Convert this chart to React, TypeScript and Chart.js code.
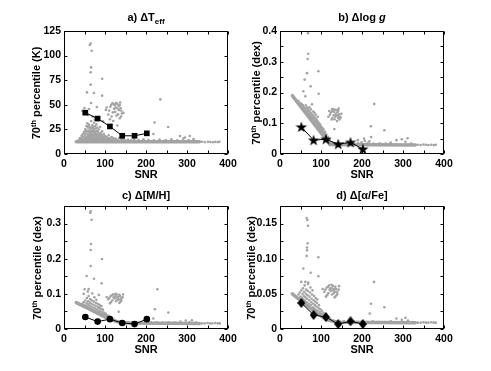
import React, { useEffect, useRef } from "react";
import { Chart, registerables } from "chart.js";
Chart.register(...registerables);

// ---------- data ----------
const SNR_BINS = [52, 82, 112, 142, 172, 202];

const TEFF_P70 = [42, 36, 28, 18.5, 18.5, 21];
const TEFF_ERR = [1.8, 1.4, 1.3, 1.1, 1.1, 1.3];
const LOGG_P70 = [0.088, 0.045, 0.048, 0.032, 0.038, 0.016];
const LOGG_ERR = [0.005, 0.004, 0.004, 0.003, 0.003, 0.004];
const MH_P70 = [0.034, 0.021, 0.028, 0.017, 0.014, 0.028];
const MH_ERR = [0.003, 0.002, 0.003, 0.002, 0.002, 0.003];
const AFE_P70 = [0.037, 0.02, 0.017, 0.007, 0.011, 0.007];
const AFE_ERR = [0.004, 0.003, 0.003, 0.002, 0.002, 0.002];

const X_TICK_LABELS = ["0", "", "100", "", "200", "", "300", "", "400"];
const TEFF_TICK_LABELS = ["0", "25", "50", "75", "100", "125"];
const LOGG_TICK_LABELS = ["0", "", "0.1", "", "0.2", "", "0.3", "", "0.4"];
const MH_TICK_LABELS = ["0", "", "0.1", "", "0.2", "", "0.3", ""];
const AFE_TICK_LABELS = ["0", "", "0.05", "", "0.10", "", "0.15", ""];

// dense floor bands of individual stars (drawn as thick gray polylines)
const TEFF_BAND = [[30, 12.4], [330, 12.4]];
const LOGG_BAND = [[30, 0.19], [122, 0.031], [330, 0.029]];
const MH_BAND = [[30, 0.075], [60, 0.058], [90, 0.04], [115, 0.026], [135, 0.019], [160, 0.017], [330, 0.016]];
const AFE_BAND = [[30, 0.05], [60, 0.036], [90, 0.022], [115, 0.013], [140, 0.0095], [330, 0.009]];

const TEFF_STARS = [
  [36, 14.1], [39, 16.2], [41, 13.4], [43, 18.5], [44, 15.1], [46, 20.3], [47, 13.8], [48, 16.9], [49, 22.6], [50, 14.6],
  [51, 18.8], [52, 25.1], [53, 13.5], [53, 16.2], [54, 20.9], [55, 28.3], [55, 14.9], [56, 17.6], [57, 23.4], [57, 31.2],
  [58, 13.7], [58, 19.5], [59, 15.8], [59, 26.7], [60, 21.8], [60, 14.3], [61, 17.4], [61, 29.6], [62, 24.1], [62, 13.9],
  [63, 19.9], [63, 16.1], [64, 27.2], [64, 22.5], [65, 14.7], [65, 18.3], [66, 33.5], [66, 25.8], [67, 15.5], [67, 20.7],
  [68, 13.6], [68, 17.9], [69, 23.6], [69, 29.1], [70, 15.2], [70, 19.1], [71, 26.4], [71, 14.0], [72, 21.7], [72, 17.2],
  [73, 31.8], [73, 24.6], [74, 15.8], [74, 19.6], [75, 13.8], [75, 28.2], [76, 22.3], [76, 16.6], [77, 14.6], [77, 25.9],
  [78, 18.7], [78, 20.8], [79, 15.1], [79, 30.1], [80, 23.5], [80, 17.0], [81, 13.9], [81, 26.8], [82, 19.4], [83, 15.7],
  [83, 22.1], [84, 17.8], [85, 14.3], [85, 24.9], [86, 20.2], [87, 16.4], [88, 18.9], [88, 27.5], [89, 14.8], [90, 21.6],
  [91, 16.9], [92, 13.7], [92, 19.3], [93, 23.1], [94, 15.5], [95, 17.7], [96, 14.2], [97, 20.4], [98, 16.1], [99, 13.9],
  [100, 18.2], [102, 15.0], [104, 17.3], [105, 14.1], [107, 16.0], [109, 19.1], [110, 14.6], [112, 15.9], [114, 13.8], [116, 17.2],
  [118, 14.9], [121, 16.3], [124, 14.2], [127, 15.4], [131, 13.9], [135, 16.1], [139, 14.5], [144, 15.2], [149, 13.8], [156, 14.6],
  [163, 13.9], [171, 14.8], [182, 14.1], [194, 15.0], [206, 14.3], [219, 13.9], [233, 14.6], [248, 14.2], [262, 14.9], [276, 14.0],
  [291, 15.6], [304, 14.3], [316, 15.1],
  [42, 15.6], [45, 17.8], [51, 21.7], [54, 23.8], [58, 27.9], [62, 19.2], [66, 23.1], [70, 27.6], [74, 23.2], [77, 19.9],
  [63, 110.8], [65, 112.3], [67.5, 105], [66, 88], [65, 83], [65, 70.5], [93, 76.5], [56, 62.6], [73, 62], [93, 59.3],
  [66, 51.8], [80, 47.8], [50, 46.7], [61, 45.7], [45, 43.8], [48, 40.9], [59, 39.6], [70, 37.8], [75, 34.9], [102, 44.8],
  [95, 33.2], [130, 29], [221, 32], [235, 55.5], [254, 27.4], [218, 20.3], [283, 18.3], [295, 16.8], [307, 18.3],
  [108, 40.2], [110, 44.1], [113, 47.9], [115, 49.8], [118, 51.6], [121, 50.7], [124, 49.5], [127, 51.8], [130, 50.9], [133, 48.7],
  [136, 49.9], [138, 46.6], [140, 43.9], [141, 41.2], [139, 38.1], [136, 36.4], [132, 40.3], [128, 39.2], [125, 42.8], [122, 45.9],
  [119, 42.3], [116, 38.1], [130, 46.2], [134, 44.6], [126, 47.1], [112, 35.2], [145, 41.8], [120, 33.5], [104, 47.2], [137, 52.4],
  [336, 12.4], [343, 12.1], [351, 12.5], [357, 12.2], [363, 12.0], [369, 12.3], [375, 12.1], [379, 12.4],
];

const LOGG_STARS = [
  [45, 0.172], [50, 0.166], [53, 0.162], [56, 0.158], [58, 0.152], [60, 0.149], [62, 0.146], [63, 0.158], [65, 0.14], [66, 0.151],
  [67, 0.137], [68, 0.146], [70, 0.131], [71, 0.14], [72, 0.152], [73, 0.127], [74, 0.135], [75, 0.145], [76, 0.122], [77, 0.131],
  [78, 0.162], [79, 0.117], [80, 0.126], [81, 0.138], [82, 0.113], [83, 0.121], [84, 0.134], [85, 0.108], [86, 0.117], [87, 0.128],
  [88, 0.104], [89, 0.112], [90, 0.099], [91, 0.108], [92, 0.121], [93, 0.094], [94, 0.102], [95, 0.09], [96, 0.098], [97, 0.086],
  [98, 0.095], [99, 0.082], [100, 0.089], [102, 0.078], [103, 0.085], [105, 0.071], [106, 0.08], [108, 0.066], [110, 0.072], [111, 0.058],
  [113, 0.063], [115, 0.051], [117, 0.056], [119, 0.044], [121, 0.047], [124, 0.038], [127, 0.036], [131, 0.035], [136, 0.034], [141, 0.036],
  [147, 0.033], [154, 0.035], [162, 0.034], [171, 0.036], [180, 0.033], [191, 0.035], [199, 0.038], [207, 0.042], [214, 0.036], [228, 0.034],
  [243, 0.035], [258, 0.034], [270, 0.037], [284, 0.045], [297, 0.048], [306, 0.04], [311, 0.051], [320, 0.034],
  [68.3, 0.393], [69, 0.326], [67.5, 0.309], [65.9, 0.263], [93.5, 0.269], [60, 0.242], [74.8, 0.22], [57, 0.204], [94.3, 0.196], [61.8, 0.188],
  [230, 0.163], [221.6, 0.09], [254.5, 0.077], [132.5, 0.081], [218, 0.041], [222, 0.055], [190, 0.045], [205, 0.05],
  [122, 0.128], [124, 0.135], [127, 0.145], [128, 0.139], [130, 0.146], [132, 0.137], [134, 0.144], [136, 0.131], [138, 0.143], [140, 0.136],
  [142, 0.141], [144, 0.129], [146, 0.122], [145, 0.112], [142, 0.117], [139, 0.107], [135, 0.121], [131, 0.126], [128, 0.118], [133, 0.113],
  [137, 0.126], [141, 0.124], [126, 0.112], [148, 0.118], [120, 0.14], [143, 0.148], [118, 0.121], [150, 0.131],
  [336, 0.03], [343, 0.029], [350, 0.031], [356, 0.03], [362, 0.029], [369, 0.03], [375, 0.029], [380, 0.03],
];

const MH_STARS = [
  [45, 0.072], [48, 0.076], [50, 0.068], [52, 0.081], [54, 0.065], [55, 0.074], [56, 0.088], [57, 0.062], [58, 0.07], [59, 0.079],
  [60, 0.094], [61, 0.06], [62, 0.067], [63, 0.075], [64, 0.085], [65, 0.057], [66, 0.064], [67, 0.072], [68, 0.081], [69, 0.101],
  [70, 0.054], [71, 0.061], [72, 0.069], [73, 0.078], [74, 0.09], [75, 0.051], [76, 0.058], [77, 0.066], [78, 0.074], [79, 0.083],
  [80, 0.048], [81, 0.055], [82, 0.063], [83, 0.071], [84, 0.046], [85, 0.052], [86, 0.06], [87, 0.068], [88, 0.044], [89, 0.05],
  [90, 0.057], [91, 0.065], [92, 0.042], [94, 0.048], [95, 0.055], [97, 0.04], [98, 0.046], [100, 0.038], [102, 0.043], [104, 0.035],
  [106, 0.039], [108, 0.032], [110, 0.036], [113, 0.029], [116, 0.031], [119, 0.026], [122, 0.027], [126, 0.023], [130, 0.022], [135, 0.02],
  [141, 0.021], [148, 0.019], [156, 0.02], [165, 0.018], [176, 0.019], [188, 0.018], [200, 0.02], [212, 0.018], [226, 0.019], [240, 0.018],
  [255, 0.019], [270, 0.018], [284, 0.021], [297, 0.024], [306, 0.019], [312, 0.025], [322, 0.018],
  [65, 0.335], [64, 0.331], [67.5, 0.311], [65.9, 0.242], [65, 0.225], [65, 0.179], [92.7, 0.199], [55.3, 0.151], [73.2, 0.143], [91.9, 0.13],
  [50.4, 0.113], [60.2, 0.114], [227.6, 0.113], [254.5, 0.047], [221.6, 0.056], [133.3, 0.049], [217.8, 0.03], [48, 0.1], [58, 0.107], [85, 0.097],
  [108, 0.085], [111, 0.089], [114, 0.094], [117, 0.096], [120, 0.099], [123, 0.092], [126, 0.1], [129, 0.098], [132, 0.091], [135, 0.097],
  [137, 0.093], [139, 0.086], [140, 0.081], [138, 0.078], [135, 0.074], [131, 0.083], [127, 0.079], [124, 0.087], [121, 0.09], [118, 0.082],
  [115, 0.077], [130, 0.088], [134, 0.084], [126, 0.094], [143, 0.09], [112, 0.073], [104, 0.091], [144, 0.098],
  [336, 0.016], [343, 0.016], [350, 0.017], [356, 0.016], [362, 0.016], [369, 0.017], [375, 0.016], [380, 0.016],
];

const AFE_STARS = [
  [45, 0.049], [48, 0.052], [50, 0.046], [52, 0.055], [54, 0.044], [55, 0.05], [56, 0.058], [57, 0.042], [58, 0.047], [59, 0.053],
  [60, 0.062], [61, 0.04], [62, 0.045], [63, 0.05], [64, 0.056], [65, 0.038], [66, 0.043], [67, 0.048], [68, 0.054], [69, 0.066],
  [70, 0.036], [71, 0.041], [72, 0.046], [73, 0.052], [74, 0.059], [75, 0.034], [76, 0.038], [77, 0.043], [78, 0.049], [79, 0.055],
  [80, 0.031], [81, 0.036], [82, 0.041], [83, 0.047], [84, 0.029], [85, 0.034], [86, 0.039], [87, 0.044], [88, 0.027], [89, 0.032],
  [90, 0.037], [91, 0.042], [92, 0.026], [94, 0.03], [95, 0.034], [97, 0.024], [98, 0.028], [100, 0.022], [102, 0.026], [104, 0.02],
  [106, 0.023], [108, 0.018], [110, 0.021], [113, 0.016], [116, 0.017], [119, 0.014], [122, 0.015], [126, 0.012], [130, 0.012], [135, 0.011],
  [141, 0.011], [148, 0.01], [156, 0.011], [165, 0.01], [176, 0.011], [188, 0.01], [200, 0.011], [212, 0.01], [226, 0.011], [240, 0.01],
  [255, 0.01], [270, 0.011], [284, 0.015], [297, 0.013], [306, 0.016], [312, 0.012], [322, 0.01],
  [65, 0.158], [66.7, 0.155], [68.3, 0.147], [67.5, 0.122], [65.9, 0.116], [65.9, 0.112], [65, 0.104], [93.5, 0.102], [56.9, 0.086], [74.8, 0.08],
  [93.5, 0.075], [52, 0.067], [61.8, 0.067], [229.3, 0.067], [68.3, 0.064], [221.6, 0.036], [254.5, 0.031], [133.3, 0.045], [219, 0.022],
  [108, 0.053], [111, 0.056], [114, 0.059], [117, 0.06], [120, 0.062], [123, 0.058], [126, 0.063], [129, 0.061], [132, 0.057], [135, 0.06],
  [137, 0.057], [139, 0.053], [140, 0.05], [138, 0.048], [135, 0.046], [131, 0.051], [127, 0.049], [124, 0.054], [121, 0.056], [118, 0.051],
  [115, 0.048], [130, 0.055], [134, 0.053], [126, 0.058], [143, 0.056], [112, 0.046], [104, 0.057], [144, 0.061],
  [336, 0.009], [343, 0.009], [350, 0.0095], [356, 0.009], [362, 0.009], [369, 0.0095], [375, 0.009], [380, 0.009],
];

// ---------- styling ----------
const FONT = '"Liberation Sans", Arial, Helvetica, sans-serif';
const GRAY = "#a3a3a3";
const Y_AXIS_W = 50;
const X_AXIS_H = 40;
const PAD_TOP = 10;
const PAD_RIGHT = 16;
const AREA_W = 164;
const AREA_H = 123;
const CANVAS_W = AREA_W + Y_AXIS_W + PAD_RIGHT;
const CANVAS_H = AREA_H + PAD_TOP + X_AXIS_H;

function makeStar(): HTMLCanvasElement {
  const c = document.createElement("canvas");
  c.width = 12;
  c.height = 12;
  const ctx = c.getContext("2d")!;
  ctx.fillStyle = "#000";
  ctx.beginPath();
  const cx = 6, cy = 6.4, R = 6, r = 2.4;
  for (let k = 0; k < 10; k++) {
    const a = -Math.PI / 2 + (k * Math.PI) / 5;
    const rad = k % 2 === 0 ? R : r;
    const px = cx + rad * Math.cos(a);
    const py = cy + rad * Math.sin(a);
    if (k === 0) ctx.moveTo(px, py);
    else ctx.lineTo(px, py);
  }
  ctx.closePath();
  ctx.fill();
  return c;
}

function makeDiamond(): HTMLCanvasElement {
  const c = document.createElement("canvas");
  c.width = 8;
  c.height = 10;
  const ctx = c.getContext("2d")!;
  ctx.fillStyle = "#000";
  ctx.beginPath();
  ctx.moveTo(4, 0);
  ctx.lineTo(8, 5);
  ctx.lineTo(4, 10);
  ctx.lineTo(0, 5);
  ctx.closePath();
  ctx.fill();
  return c;
}

type PanelCfg = {
  left: number;
  top: number;
  yMax: number;
  yStep: number;
  yLabels: string[];
  values: number[];
  errors: number[];
  stars: number[][];
  band: number[][];
  marker: string;
  radius: number;
};

const framePlugin = {
  id: "matlabFrame",
  afterDatasetsDraw(chart: any, _args: any, opts: any) {
    const { ctx, chartArea, scales } = chart;
    const xs = scales.x;
    const ys = scales.y;
    ctx.save();
    ctx.strokeStyle = "#000";
    ctx.lineWidth = 1;
    const vals: number[] = opts.values || [];
    const errs: number[] = opts.errors || [];
    vals.forEach((v, i) => {
      const px = Math.round(xs.getPixelForValue(SNR_BINS[i])) + 0.5;
      const y1 = ys.getPixelForValue(v - errs[i]);
      const y2 = ys.getPixelForValue(v + errs[i]);
      ctx.beginPath();
      ctx.moveTo(px, y1);
      ctx.lineTo(px, y2);
      ctx.stroke();
    });
    const L = chartArea.left + 0.5, R = chartArea.right - 0.5;
    const T = chartArea.top + 0.5, B = chartArea.bottom - 0.5;
    ctx.strokeRect(L, T, R - L, B - T);
    const TL = 3;
    xs.ticks.forEach((t: any) => {
      const px = Math.round(xs.getPixelForValue(t.value)) + 0.5;
      ctx.beginPath();
      ctx.moveTo(px, B);
      ctx.lineTo(px, B - TL);
      ctx.moveTo(px, T);
      ctx.lineTo(px, T + TL);
      ctx.stroke();
    });
    ys.ticks.forEach((t: any) => {
      const py = Math.round(ys.getPixelForValue(t.value)) + 0.5;
      ctx.beginPath();
      ctx.moveTo(L, py);
      ctx.lineTo(L + TL, py);
      ctx.moveTo(R, py);
      ctx.lineTo(R - TL, py);
      ctx.stroke();
    });
    ctx.restore();
  },
};

function buildConfig(cfg: PanelCfg, markerStyle: any): any {
  const tickFont = { family: FONT, size: 10.5, weight: "bold" as const };
  return {
    type: "scatter",
    data: {
      datasets: [
        {
          data: SNR_BINS.map((x, i) => ({ x, y: cfg.values[i] })),
          showLine: true,
          borderColor: "#000",
          borderWidth: 1,
          backgroundColor: "#000",
          pointStyle: markerStyle,
          pointRadius: cfg.radius,
          pointBorderWidth: 0,
        },
        {
          data: cfg.stars.map(([x, y]) => ({ x, y })),
          backgroundColor: GRAY,
          borderWidth: 0,
          pointRadius: 1.3,
          pointBorderWidth: 0,
        },
        {
          data: cfg.band.map(([x, y]) => ({ x, y })),
          showLine: true,
          borderColor: GRAY,
          borderWidth: 3.5,
          pointRadius: 0,
          borderCapStyle: "round",
        },
      ],
    },
    options: {
      animation: false,
      responsive: false,
      maintainAspectRatio: false,
      events: [],
      layout: { padding: { left: 0, top: PAD_TOP, right: PAD_RIGHT, bottom: 0 } },
      plugins: {
        legend: { display: false },
        tooltip: { enabled: false },
        matlabFrame: { values: cfg.values, errors: cfg.errors },
      },
      scales: {
        x: {
          type: "linear",
          min: 0,
          max: 400,
          grid: { display: false, drawTicks: false },
          border: { display: false },
          ticks: {
            stepSize: 50,
            autoSkip: false,
            maxRotation: 0,
            padding: 4,
            color: "#000",
            font: tickFont,
            callback: (_v: any, i: number) => X_TICK_LABELS[i] ?? "",
          },
          afterFit: (s: any) => {
            s.height = X_AXIS_H;
          },
        },
        y: {
          type: "linear",
          min: 0,
          max: cfg.yMax,
          grid: { display: false, drawTicks: false },
          border: { display: false },
          ticks: {
            stepSize: cfg.yStep,
            autoSkip: false,
            padding: 3,
            color: "#000",
            font: tickFont,
            callback: (_v: any, i: number) => cfg.yLabels[i] ?? "",
          },
          afterFit: (s: any) => {
            s.width = Y_AXIS_W;
          },
        },
      },
    },
    plugins: [framePlugin],
  };
}

const PANELS: PanelCfg[] = [
  { left: 64, top: 31, yMax: 125, yStep: 25, yLabels: TEFF_TICK_LABELS, values: TEFF_P70, errors: TEFF_ERR, stars: TEFF_STARS, band: TEFF_BAND, marker: "rect", radius: 4 },
  { left: 280, top: 31, yMax: 0.4, yStep: 0.05, yLabels: LOGG_TICK_LABELS, values: LOGG_P70, errors: LOGG_ERR, stars: LOGG_STARS, band: LOGG_BAND, marker: "star", radius: 5 },
  { left: 64, top: 206, yMax: 0.35, yStep: 0.05, yLabels: MH_TICK_LABELS, values: MH_P70, errors: MH_ERR, stars: MH_STARS, band: MH_BAND, marker: "circle", radius: 3.3 },
  { left: 280, top: 206, yMax: 0.175, yStep: 0.025, yLabels: AFE_TICK_LABELS, values: AFE_P70, errors: AFE_ERR, stars: AFE_STARS, band: AFE_BAND, marker: "diamond", radius: 5 },
];

function Panel({ cfg }: { cfg: PanelCfg }) {
  const ref = useRef<HTMLCanvasElement>(null);
  useEffect(() => {
    if (!ref.current) return;
    let style: any = cfg.marker;
    if (cfg.marker === "star") style = makeStar();
    if (cfg.marker === "diamond") style = makeDiamond();
    const chart = new Chart(ref.current, buildConfig(cfg, style));
    return () => chart.destroy();
  }, [cfg]);
  return (
    <canvas
      ref={ref}
      width={CANVAS_W}
      height={CANVAS_H}
      style={{
        position: "absolute",
        left: cfg.left - Y_AXIS_W,
        top: cfg.top - PAD_TOP,
        width: CANVAS_W,
        height: CANVAS_H,
      }}
    />
  );
}

const textBase: React.CSSProperties = {
  position: "absolute",
  whiteSpace: "nowrap",
  fontFamily: FONT,
  fontWeight: "bold",
  fontSize: 11,
  lineHeight: "12px",
  color: "#000",
};

function Label({ x, y, rotate, children }: { x: number; y: number; rotate?: boolean; children: React.ReactNode }) {
  return (
    <div
      style={{
        ...textBase,
        left: x,
        top: y,
        transform: `translate(-50%, -50%)${rotate ? " rotate(-90deg)" : ""}`,
      }}
    >
      {children}
    </div>
  );
}

const supStyle: React.CSSProperties = { fontSize: 7.5, verticalAlign: 4, lineHeight: 0 };
const subStyle: React.CSSProperties = { fontSize: 8, verticalAlign: -3, lineHeight: 0 };

function YTitle({ unit }: { unit: string }) {
  return (
    <span>
      70<span style={supStyle}>th</span> percentile ({unit})
    </span>
  );
}

export default function App() {
  return (
    <div
      style={{
        position: "absolute",
        left: 0,
        top: 0,
        width: 491,
        height: 371,
        background: "#fff",
        overflow: "hidden",
      }}
    >
      {PANELS.map((p, i) => (
        <Panel key={i} cfg={p} />
      ))}
      <Label x={146} y={17}>
        a) ΔT<span style={subStyle}>eff</span>
      </Label>
      <Label x={362} y={17}>
        b) Δlog <i>g</i>
      </Label>
      <Label x={146} y={195}>
        c) Δ[M/H]
      </Label>
      <Label x={362} y={195}>
        d) Δ[α/Fe]
      </Label>
      <Label x={146} y={174}>SNR</Label>
      <Label x={362} y={174}>SNR</Label>
      <Label x={146} y={349}>SNR</Label>
      <Label x={362} y={349}>SNR</Label>
      <Label x={36} y={92.5} rotate>
        <YTitle unit="K" />
      </Label>
      <Label x={256} y={92.5} rotate>
        <YTitle unit="dex" />
      </Label>
      <Label x={37} y={267.5} rotate>
        <YTitle unit="dex" />
      </Label>
      <Label x={251} y={267.5} rotate>
        <YTitle unit="dex" />
      </Label>
    </div>
  );
}
